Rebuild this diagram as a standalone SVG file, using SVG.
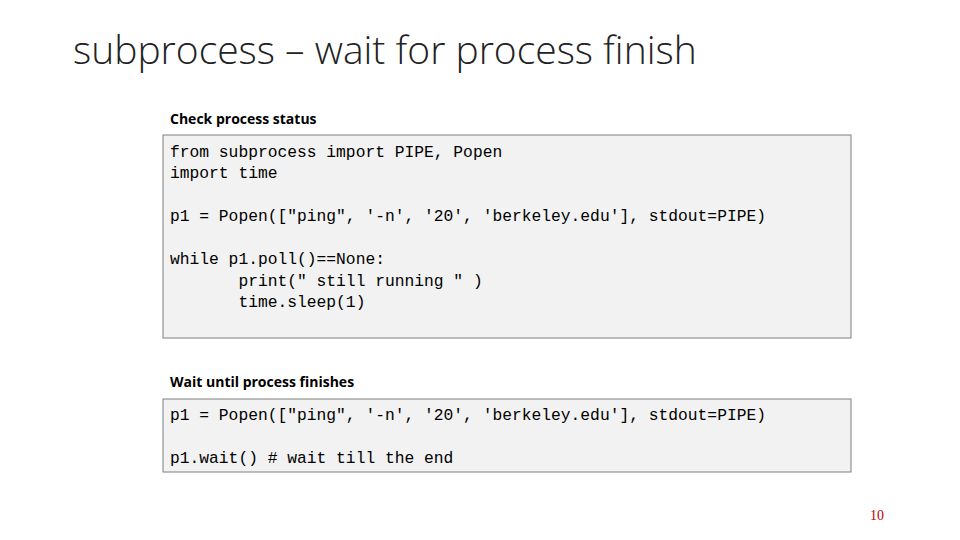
<svg xmlns="http://www.w3.org/2000/svg" width="960" height="540" viewBox="0 0 960 540">
<style>
.code{font-family:"Liberation Mono",monospace;font-size:16.3px;fill:#000;white-space:pre}
.lbl{font-family:"Open Sans","Liberation Sans",sans-serif;font-size:14px;font-weight:bold;fill:#000}
.box{fill:#f2f2f2;stroke:#7f7f7f;stroke-width:1}
</style>
<rect width="960" height="540" fill="#fff"/>
<text x="73" y="64" font-family="Open Sans, Liberation Sans, sans-serif" font-weight="300" font-size="39" fill="#222">subprocess – wait for process finish</text>
<text class="lbl" x="170" y="124">Check process status</text>
<rect class="box" x="163" y="135" width="688" height="203"/>
<text class="code" x="170" y="157" xml:space="preserve">from subprocess import PIPE, Popen</text>
<text class="code" x="170" y="178" xml:space="preserve">import time</text>
<text class="code" x="170" y="221" xml:space="preserve">p1 = Popen(["ping", '-n', '20', 'berkeley.edu'], stdout=PIPE)</text>
<text class="code" x="170" y="264" xml:space="preserve">while p1.poll()==None:</text>
<text class="code" x="170" y="286" xml:space="preserve">       print(" still running " )</text>
<text class="code" x="170" y="307" xml:space="preserve">       time.sleep(1)</text>
<text class="lbl" x="170" y="387">Wait until process finishes</text>
<rect class="box" x="163" y="399" width="688" height="73"/>
<text class="code" x="170" y="420" xml:space="preserve">p1 = Popen(["ping", '-n', '20', 'berkeley.edu'], stdout=PIPE)</text>
<text class="code" x="170" y="463" xml:space="preserve">p1.wait() # wait till the end</text>
<text x="870" y="520" font-family="Liberation Serif, serif" font-size="14" fill="#c00000">10</text>
</svg>
